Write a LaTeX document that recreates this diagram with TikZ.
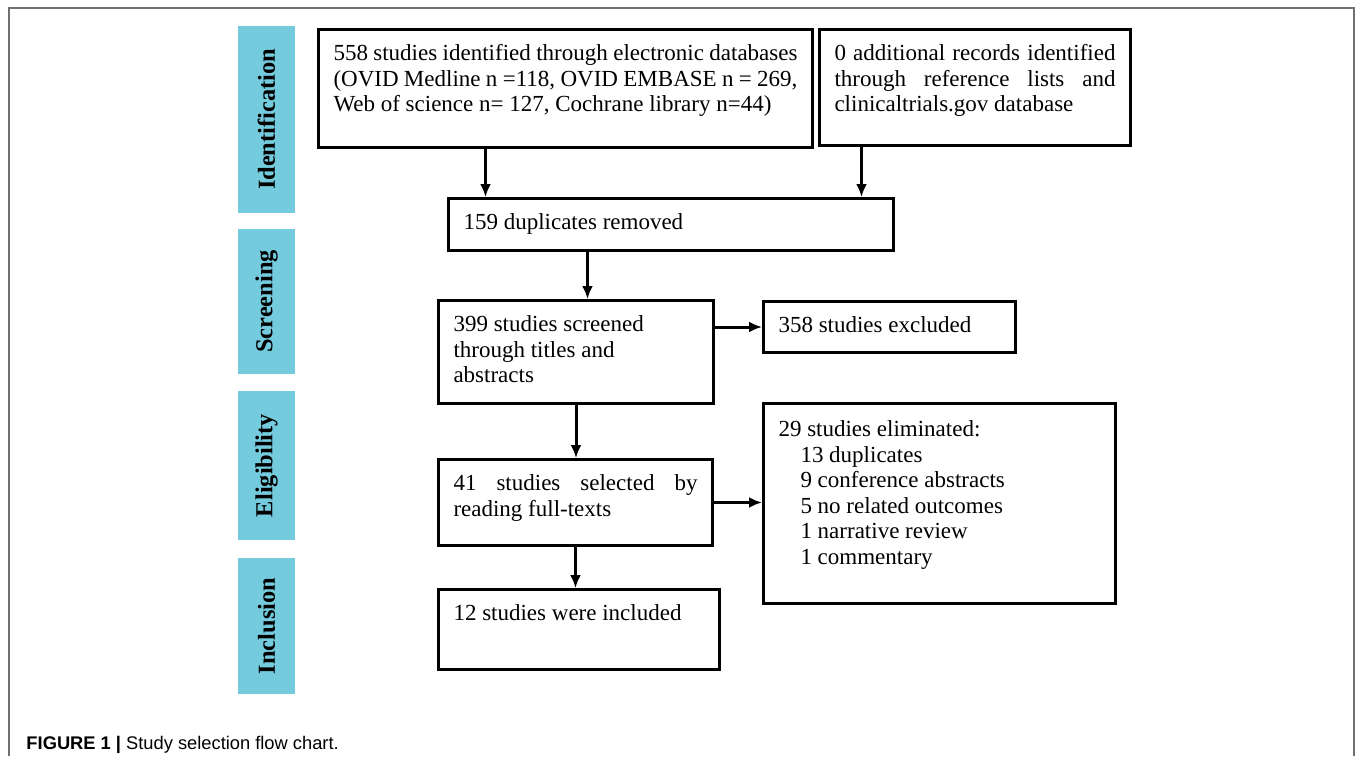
\documentclass[tikz,border=0pt]{standalone}
\usepackage{fontspec}
\setmainfont{Liberation Serif}
\newfontfamily\capfont{Liberation Sans}
\usetikzlibrary{arrows.meta}
\definecolor{stageblue}{RGB}{116,203,222}
\definecolor{framegray}{RGB}{112,112,112}
\newcommand{\boxtext}[3]{\parbox[c][#2][t]{#1}{#3}}

\begin{document}
\begin{tikzpicture}[x=1pt,y=-1pt,->,>={Latex[length=13pt,width=11pt]},line width=3pt]
    \tikzstyle{stage}=[draw=none,fill=stageblue,rotate=90,minimum height=57pt,inner sep=0pt,font=\fontsize{24.4}{28}\selectfont\bfseries]
    \tikzstyle{box}=[draw=black,rectangle,anchor=north west,inner xsep=15pt,inner ysep=15pt,font=\fontsize{23}{25.6}\selectfont]
    \useasboundingbox (0,0) rectangle (1355,756);
    \draw[-,line width=1.4pt,draw=framegray] (9,756) -- (9,8) -- (1354,8) -- (1354,756);
    % stages
    \node[stage,minimum width=187pt] (ident)  at (266.5,119.5) {Identification};
    \node[stage,minimum width=145pt] (screen) at (266.5,301.5) {Screening};
    \node[stage,minimum width=149pt] (elig)   at (266.5,465.5) {Eligibility};
    \node[stage,minimum width=136pt] (incl)   at (266.5,626)   {Inclusion};
    % boxes
    \node[box] (found) at (317,28) {\boxtext{464pt}{88pt}{558 studies identified through electronic databases\\
        (OVID Medline n =118, OVID EMBASE n = 269,\\
        Web of science n= 127, Cochrane library n=44)}};
    \node[box] (extra) at (818,28) {\boxtext{281pt}{86pt}{\makebox[\linewidth][s]{0 additional records identified}\\
        \makebox[\linewidth][s]{through reference lists and}\\
        clinicaltrials.gov database}};
    \node[box] (dupl) at (447,197) {\boxtext{415pt}{22pt}{159 duplicates removed}};
    \node[box] (screened) at (437,299) {\boxtext{245pt}{73pt}{399 studies screened\\through titles and\\abstracts}};
    \node[box] (excl) at (762,300) {\boxtext{222pt}{21pt}{358 studies excluded}};
    \node[box] (full) at (437,458) {\boxtext{244pt}{56pt}{\makebox[\linewidth][s]{41 studies selected by}\\reading full-texts}};
    \node[box,inner ysep=17pt] (elim) at (762,402) {\boxtext{322pt}{166pt}{29 studies eliminated:\\
        \hspace*{22pt}13 duplicates\\
        \hspace*{22pt}9 conference abstracts\\
        \hspace*{22pt}5 no related outcomes\\
        \hspace*{22pt}1 narrative review\\
        \hspace*{22pt}1 commentary}};
    \node[box] (incd) at (437,588) {\boxtext{251pt}{50pt}{12 studies were included}};
    % arrows
    \draw ([xshift=-80pt]found.south) -- ([xshift=-80pt]found.south |- dupl.north);
    \draw ([xshift=-113.5pt]extra.south) -- ([xshift=-113.5pt]extra.south |- dupl.north);
    \draw ([xshift=-83.5pt]dupl.south) -- ([xshift=-83.5pt]dupl.south |- screened.north);
    \draw (screened.east |- excl.west) -- (excl.west);
    \draw (screened.south) -- (screened.south |- full.north);
    \draw (full.east) -- (full.east -| elim.west);
    \draw (full.south) -- (full.south |- incd.north);
    % caption
    \node[anchor=base west,inner sep=0pt,font=\capfont\fontsize{18.3}{21}\selectfont] (caption) at (25,749) {\textbf{FIGURE 1 |} Study selection flow chart.};
\end{tikzpicture}
\end{document}
